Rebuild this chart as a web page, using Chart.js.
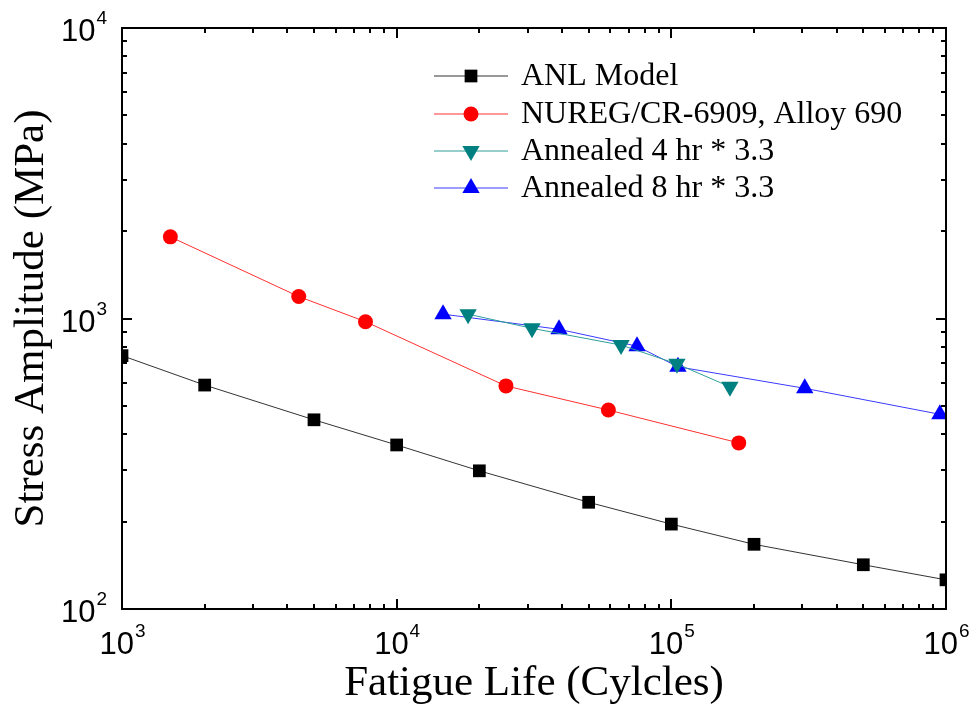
<!DOCTYPE html>
<html><head><meta charset="utf-8">
<script src="https://cdn.jsdelivr.net/npm/chart.js@4.4.1/dist/chart.umd.min.js"></script>
<style>html,body{margin:0;padding:0;background:#fff}#wrap{width:979px;height:710px}</style>
</head><body><div id="wrap"><canvas id="c" width="979" height="710"></canvas></div>
<script>
// ---- data ----
const seriesNames = ['ANL Model', 'NUREG/CR-6909, Alloy 690', 'Annealed 4 hr * 3.3', 'Annealed 8 hr * 3.3'];
const anlX = [1000, 2000, 5000, 10000, 20000, 50000, 100000, 200000, 500000, 1000000];
const anlY = [745, 590, 448, 367, 299, 233, 196, 167, 142, 126];
const nuregX = [1500, 4400, 7700, 25000, 59000, 176000];
const nuregY = [1910, 1190, 975, 586, 484, 373];
const ann4X = [18200, 31100, 65600, 104800, 163400];
const ann4Y = [1035, 925, 810, 698, 582];
const ann8X = [14750, 39000, 75000, 105700, 306000, 950000];
const ann8Y = [1035, 918, 803, 682, 575, 468];
const xTickValues = [1e3, 1e4, 1e5, 1e6];
const xTickExp = ['3', '4', '5', '6'];
const yTickValues = [1e2, 1e3, 1e4];
const yTickExp = ['2', '3', '4'];
const xTitle = 'Fatigue Life (Cylcles)';
const yTitle = 'Stress Amplitude (MPa)';

const pts = (xs, ys) => xs.map((v, i) => ({x: v, y: ys[i]}));

const styles = [
  {color: '#000000', pointStyle: 'rect', radius: 9, rotation: 0},
  {color: '#FF0000', pointStyle: 'circle', radius: 7.5, rotation: 0},
  {color: '#008080', pointStyle: 'triangle', radius: 10, rotation: 180},
  {color: '#0000FF', pointStyle: 'triangle', radius: 10, rotation: 0}
];
const lineColors = ['#333333', '#FF3030', '#2E9E9A', '#3A3AFF'];
const seriesData = [pts(anlX, anlY), pts(nuregX, nuregY), pts(ann4X, ann4Y), pts(ann8X, ann8Y)];

const datasets = seriesData.map((d, i) => ({
  label: seriesNames[i],
  data: d,
  borderColor: lineColors[i],
  borderWidth: 1,
  backgroundColor: styles[i].color,
  pointBackgroundColor: styles[i].color,
  pointBorderColor: styles[i].color,
  pointBorderWidth: 0,
  pointStyle: styles[i].pointStyle,
  pointRadius: styles[i].radius,
  pointRotation: styles[i].rotation,
  tension: 0,
  clip: 0
}));

const framePlugin = {
  id: 'frame',
  afterDraw(chart) {
    const {ctx, chartArea: {left, right, top, bottom}, scales: {x, y}} = chart;
    ctx.save();
    ctx.strokeStyle = '#000';
    ctx.lineWidth = 2;
    ctx.strokeRect(left, top, right - left, bottom - top);
    ctx.lineWidth = 2;
    ctx.beginPath();
    for (let d = 1e3; d < 1e6; d *= 10) {
      for (let m = 1; m <= 10; m++) {
        const v = m * d;
        if (v < x.min || v > x.max) continue;
        const px = Math.round(x.getPixelForValue(v));
        const len = (m === 1 || m === 10) ? 10 : 5;
        ctx.moveTo(px, bottom); ctx.lineTo(px, bottom - len);
        ctx.moveTo(px, top); ctx.lineTo(px, top + len);
      }
    }
    for (let d = 1e2; d < 1e4; d *= 10) {
      for (let m = 1; m <= 10; m++) {
        const v = m * d;
        if (v < y.min || v > y.max) continue;
        const py = Math.round(y.getPixelForValue(v));
        const len = (m === 1 || m === 10) ? 10 : 5;
        ctx.moveTo(left, py); ctx.lineTo(left + len, py);
        ctx.moveTo(right, py); ctx.lineTo(right - len, py);
      }
    }
    ctx.stroke();

    // tick labels
    const mainFont = '31px "Liberation Sans", Arial, sans-serif';
    const supFont = '19px "Liberation Sans", Arial, sans-serif';
    ctx.fillStyle = '#000';
    ctx.textBaseline = 'alphabetic';
    ctx.textAlign = 'left';
    xTickValues.forEach((v, i) => {
      const px = x.getPixelForValue(v);
      ctx.font = mainFont; const w1 = ctx.measureText('10').width;
      ctx.font = supFont; const w2 = ctx.measureText(xTickExp[i]).width;
      const sx = px - (w1 + w2) / 2;
      const base = bottom + 45;
      ctx.font = mainFont; ctx.fillText('10', sx, base);
      ctx.font = supFont; ctx.fillText(xTickExp[i], sx + w1 + 1, base - 17);
    });
    yTickValues.forEach((v, i) => {
      const py = y.getPixelForValue(v);
      ctx.font = mainFont; const w1 = ctx.measureText('10').width;
      ctx.font = supFont; const w2 = ctx.measureText(yTickExp[i]).width;
      const ex = left - 15;
      const sx = ex - w2 - w1 - 1;
      const base = py + 13;
      ctx.font = mainFont; ctx.fillText('10', sx, base);
      ctx.font = supFont; ctx.fillText(yTickExp[i], sx + w1 + 1, base - 17);
    });

    // legend
    const rows = [76, 114, 151, 188];
    ctx.font = '32px "Liberation Serif", "Times New Roman", serif';
    ctx.textBaseline = 'middle';
    chart.data.datasets.forEach((ds, i) => {
      const ry = rows[i];
      ctx.strokeStyle = ds.borderColor;
      ctx.lineWidth = 1;
      ctx.beginPath(); ctx.moveTo(434, ry); ctx.lineTo(508, ry); ctx.stroke();
      ctx.fillStyle = styles[i].color;
      ctx.strokeStyle = styles[i].color;
      Chart.helpers.drawPoint(ctx, {pointStyle: styles[i].pointStyle, rotation: styles[i].rotation, radius: styles[i].radius, borderWidth: 0}, 471, ry);
      ctx.fillStyle = '#000';
      ctx.fillText(ds.label, 521, ry + 1);
    });
    ctx.restore();
  }
};

new Chart(document.getElementById('c'), {
  type: 'line',
  data: {datasets},
  options: {
    responsive: false,
    animation: false,
    devicePixelRatio: 1,
    layout: {padding: {top: 28, right: 33, left: 0, bottom: 0}},
    plugins: {legend: {display: false}, tooltip: {enabled: false}},
    scales: {
      x: {
        type: 'logarithmic', min: 1e3, max: 1e6,
        grid: {display: false, drawTicks: false},
        border: {display: false},
        ticks: {display: false},
        title: {display: true, text: xTitle, color: '#000',
          font: {family: '"Liberation Serif", "Times New Roman", serif', size: 43},
          padding: {top: 0, bottom: 0}},
        afterFit(s) { s.height = 101; }
      },
      y: {
        type: 'logarithmic', min: 1e2, max: 1e4,
        grid: {display: false, drawTicks: false},
        border: {display: false},
        ticks: {display: false},
        title: {display: true, text: yTitle, color: '#000',
          font: {family: '"Liberation Serif", "Times New Roman", serif', size: 43},
          padding: {top: 6, bottom: 0}},
        afterFit(s) { s.width = 122; }
      }
    }
  },
  plugins: [framePlugin]
});
</script>
</body></html>
